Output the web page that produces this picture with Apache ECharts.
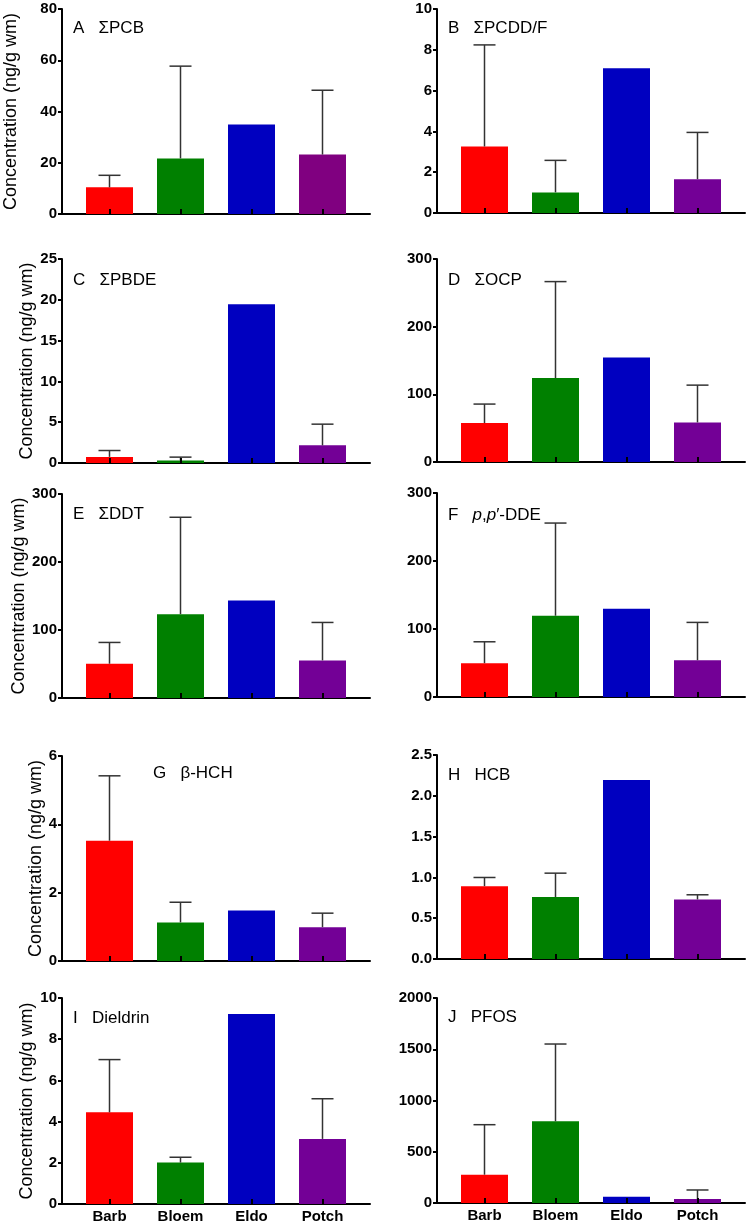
<!DOCTYPE html>
<html><head><meta charset="utf-8">
<script src="https://cdn.jsdelivr.net/npm/echarts@6/dist/echarts.min.js"></script>
<style>html,body{margin:0;padding:0;background:#fff}#c{width:750px;height:1224px}</style>
</head><body><div id="c"></div>
<script>
// ---- data ----
const categories = ['Barb', 'Bloem', 'Eldo', 'Potch'];

const meanPCB = [10.4, 21.7, 34.9, 23.2];      const sdPCB = [4.7, 36.0, null, 25.1];
const meanPCDDF = [3.26, 1.01, 7.10, 1.66];    const sdPCDDF = [4.98, 1.57, null, 2.29];
const meanPBDE = [0.75, 0.3, 19.45, 2.16];     const sdPBDE = [0.78, 0.42, null, 2.6];
const meanOCP = [57.5, 124, 154.4, 58.5];      const sdOCP = [28.1, 142.6, null, 55.1];
const meanDDT = [50.4, 123.3, 143.4, 55.3];    const sdDDT = [31.3, 142.5, null, 55.8];
const meanDDE = [49.7, 119.5, 129.9, 54.1];    const sdDDE = [31.5, 136.3, null, 55.6];
const meanHCH = [3.52, 1.13, 1.48, 0.99];      const sdHCH = [1.90, 0.59, null, 0.41];
const meanHCB = [0.893, 0.759, 2.194, 0.730];  const sdHCB = [0.106, 0.293, null, 0.057];
const meanDieldrin = [4.45, 2.01, 9.22, 3.16]; const sdDieldrin = [2.56, 0.26, null, 1.95];
const meanPFOS = [276, 797, 62, 39];           const sdPFOS = [488, 754, null, 88];

const yMax = [80, 10, 25, 300, 300, 300, 6, 2.5, 10, 2000];
const yStep = [20, 2, 5, 100, 100, 100, 2, 0.5, 2, 500];
const panelTags = ['A', 'B', 'C', 'D', 'E', 'F', 'G', 'H', 'I', 'J'];
const panelNames = ['ΣPCB', 'ΣPCDD/F', 'ΣPBDE', 'ΣOCP', 'ΣDDT', '{it|p},{it|p}′-DDE', 'β-HCH', 'HCB', 'Dieldrin', 'PFOS'];
const yAxisTitle = 'Concentration (ng/g wm)';

// ---- styling / layout ----
const FONT = '"Liberation Sans", Arial, Helvetica, sans-serif';
const colors = ['#FF0000', '#008000', '#0000C0', '#730096'];
const colorsA = ['#FF0000', '#008000', '#0000C0', '#800080'];
const means = [meanPCB, meanPCDDF, meanPBDE, meanOCP, meanDDT, meanDDE, meanHCH, meanHCB, meanDieldrin, meanPFOS];
const sds = [sdPCB, sdPCDDF, sdPBDE, sdOCP, sdDDT, sdDDE, sdHCH, sdHCB, sdDieldrin, sdPFOS];

const colLeft = [62, 437];
const rowTop = [[9, 9], [259, 259], [494, 493], [756, 755], [998, 998]];
const rowBottom = [[214, 213], [463, 462], [698, 697], [961, 959], [1204, 1203]];
const nameGaps = [42, 26, 26, 17, 26];
const labelPos = [[73, 28], [448, 28], [73, 280], [448, 280], [73, 514], [448, 515], [153, 773], [448, 775], [73, 1018], [448, 1017]];

const grids = [], xAxes = [], yAxes = [], series = [], graphics = [];

for (let i = 0; i < 10; i++) {
  const r = Math.floor(i / 2), c = i % 2;
  const top = rowTop[r][c], h = rowBottom[r][c] - rowTop[r][c];
  const left = colLeft[c];
  const bottomRow = r === 4;
  const fmt = yStep[i] < 1 ? (v => v.toFixed(1)) : (v => String(v));
  // frame grid (axis lines + y ticks)
  grids.push({ left: left, top: top, width: 308, height: h });
  // data grid (bars)
  grids.push({ left: left + 12, top: top, width: 284, height: h });
  const fi = 2 * i, di = 2 * i + 1;
  xAxes.push({
    gridIndex: fi, type: 'value', min: 0, max: 1,
    axisLine: { show: true, onZero: false, lineStyle: { color: '#000', width: 2 } },
    axisTick: { show: false }, axisLabel: { show: false }, splitLine: { show: false }
  });
  xAxes.push({
    gridIndex: di, type: 'category', data: categories, z: 10,
    axisLine: { show: false },
    axisTick: { show: true, inside: true, length: 5, alignWithLabel: true, lineStyle: { color: '#000', width: 2 } },
    axisLabel: { show: bottomRow, margin: 5, fontFamily: FONT, fontSize: 15, fontWeight: 'bold', color: '#000' },
    splitLine: { show: false }
  });
  yAxes.push({
    gridIndex: fi, type: 'value', min: 0, max: yMax[i], interval: yStep[i],
    name: c === 0 ? yAxisTitle : '', nameLocation: 'middle', nameGap: nameGaps[r],
    nameTextStyle: { fontFamily: FONT, fontSize: 18, color: '#000' },
    axisLine: { show: true, lineStyle: { color: '#000', width: 2 } },
    axisTick: { show: true, length: 4, lineStyle: { color: '#000', width: 2 } },
    axisLabel: { margin: 5, fontFamily: FONT, fontSize: 15, fontWeight: 'bold', color: '#000', formatter: fmt },
    splitLine: { show: false }
  });
  yAxes.push({
    gridIndex: di, type: 'value', min: 0, max: yMax[i], show: false, splitLine: { show: false }
  });
  const pal = i === 0 ? colorsA : colors;
  series.push({
    type: 'bar', xAxisIndex: di, yAxisIndex: di, barWidth: 47, z: 2,
    data: means[i].map((v, k) => ({ value: v, itemStyle: { color: pal[k] } })),
    animation: false
  });
  const errData = [];
  means[i].forEach((v, k) => { if (sds[i][k] != null) errData.push([k, v, v + sds[i][k]]); });
  series.push({
    type: 'custom', xAxisIndex: di, yAxisIndex: di, z: 3, animation: false,
    data: errData,
    renderItem: function (params, api) {
      const p0 = api.coord([api.value(0), api.value(1)]);
      const p1 = api.coord([api.value(0), api.value(2)]);
      const hw = 11;
      const st = { stroke: '#333', lineWidth: 1.5 };
      return {
        type: 'group', children: [
          { type: 'line', shape: { x1: p0[0], y1: p0[1], x2: p1[0], y2: p1[1] }, style: st },
          { type: 'line', shape: { x1: p1[0] - hw, y1: p1[1], x2: p1[0] + hw, y2: p1[1] }, style: st }
        ]
      };
    }
  });
  graphics.push({
    type: 'text', x: labelPos[i][0], y: labelPos[i][1], z: 20,
    style: {
      text: panelTags[i] + '   ' + panelNames[i],
      fontFamily: FONT, fontSize: 17, fill: '#000', verticalAlign: 'middle', align: 'left',
      rich: { it: { fontStyle: 'italic', fontFamily: FONT, fontSize: 17, fill: '#000' } }
    }
  });
}

const chart = echarts.init(document.getElementById('c'), null, { renderer: 'canvas' });
chart.setOption({
  animation: false,
  backgroundColor: '#fff',
  grid: grids, xAxis: xAxes, yAxis: yAxes, series: series, graphic: graphics
});
</script></body></html>
